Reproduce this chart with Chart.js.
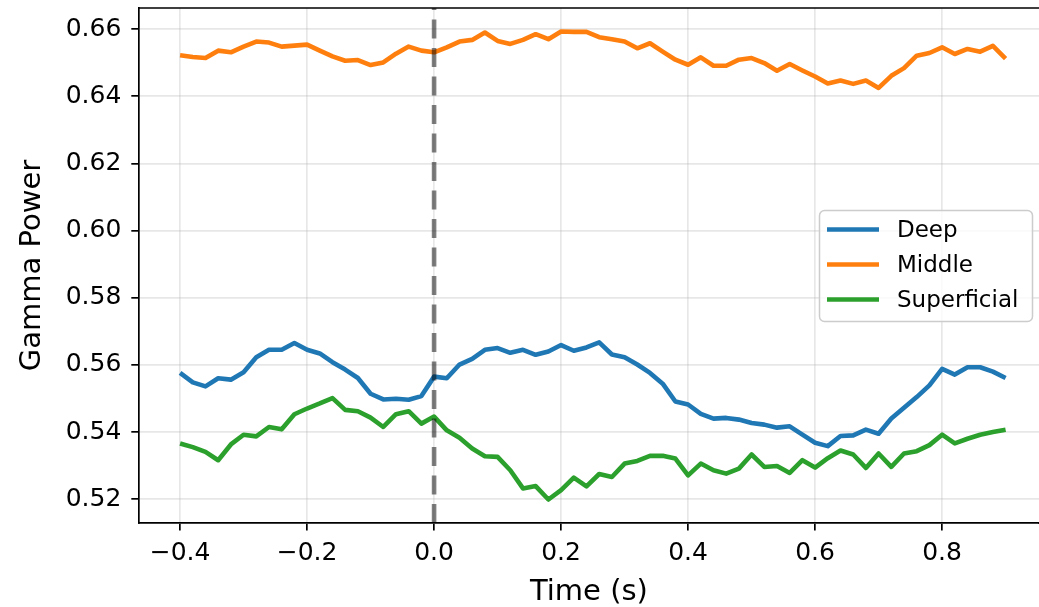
<!DOCTYPE html>
<html>
<head>
<meta charset="utf-8">
<script src="https://cdn.jsdelivr.net/npm/chart.js@4"></script>
<style>
  html, body { margin: 0; padding: 0; background: #fff; overflow: hidden; }
  #chart { display: block; }
</style>
</head>
<body>
<canvas id="chart" width="1039" height="607"></canvas>
<script>
const times = [
    -0.40, -0.38, -0.36, -0.34, -0.32, -0.30, -0.28, -0.26, -0.24, -0.22,
    -0.20, -0.18, -0.16, -0.14, -0.12, -0.10, -0.08, -0.06, -0.04, -0.02,
    0.00, 0.02, 0.04, 0.06, 0.08, 0.10, 0.12, 0.14, 0.16, 0.18,
    0.20, 0.22, 0.24, 0.26, 0.28, 0.30, 0.32, 0.34, 0.36, 0.38,
    0.40, 0.42, 0.44, 0.46, 0.48, 0.50, 0.52, 0.54, 0.56, 0.58,
    0.60, 0.62, 0.64, 0.66, 0.68, 0.70, 0.72, 0.74, 0.76, 0.78,
    0.80, 0.82, 0.84, 0.86, 0.88, 0.90
];

const deep = [
    0.5576, 0.5548, 0.5536, 0.5560, 0.5556, 0.5578, 0.5623, 0.5645, 0.5645, 0.5665,
    0.5645, 0.5634, 0.5608, 0.5586, 0.5561, 0.5514, 0.5497, 0.5499, 0.5496, 0.5507,
    0.5565, 0.5560, 0.5601, 0.5618, 0.5645, 0.5650, 0.5636, 0.5645, 0.5630, 0.5640,
    0.5659, 0.5642, 0.5652, 0.5667, 0.5631, 0.5623, 0.5601, 0.5576, 0.5544, 0.5491,
    0.5482, 0.5454, 0.5440, 0.5442, 0.5437, 0.5427, 0.5422, 0.5413, 0.5417, 0.5392,
    0.5368, 0.5358, 0.5388, 0.5390, 0.5407, 0.5395, 0.5440, 0.5472, 0.5504, 0.5539,
    0.5588, 0.5571, 0.5593, 0.5593, 0.5580, 0.5561
];

const middle = [
    0.6522, 0.6517, 0.6514, 0.6536, 0.6531, 0.6548, 0.6563, 0.6560, 0.6548, 0.6551,
    0.6554, 0.6536, 0.6519, 0.6506, 0.6508, 0.6493, 0.6501, 0.6527, 0.6548, 0.6536,
    0.6531, 0.6546, 0.6563, 0.6568, 0.6590, 0.6565, 0.6556, 0.6568, 0.6585, 0.6570,
    0.6593, 0.6592, 0.6592, 0.6576, 0.6570, 0.6563, 0.6543, 0.6558, 0.6533, 0.6509,
    0.6494, 0.6516, 0.6491, 0.6491, 0.6509, 0.6514, 0.6499, 0.6476, 0.6496, 0.6477,
    0.6459, 0.6438, 0.6447, 0.6437, 0.6447, 0.6425, 0.6461, 0.6484, 0.6521, 0.6529,
    0.6546, 0.6526, 0.6541, 0.6533, 0.6550, 0.6512
];

const superficial = [
    0.5366, 0.5355, 0.5341, 0.5316, 0.5363, 0.5392, 0.5387, 0.5415, 0.5408, 0.5453,
    0.5470, 0.5485, 0.5501, 0.5466, 0.5462, 0.5443, 0.5415, 0.5453, 0.5462, 0.5425,
    0.5446, 0.5405, 0.5383, 0.5351, 0.5328, 0.5326, 0.5286, 0.5232, 0.5239, 0.5199,
    0.5227, 0.5264, 0.5238, 0.5275, 0.5266, 0.5306, 0.5314, 0.5329, 0.5329, 0.5321,
    0.5271, 0.5306, 0.5286, 0.5276, 0.5291, 0.5333, 0.5296, 0.5299, 0.5278, 0.5316,
    0.5294, 0.5322, 0.5345, 0.5333, 0.5293, 0.5336, 0.5296, 0.5336, 0.5343, 0.5361,
    0.5392, 0.5366, 0.5380, 0.5392, 0.5400, 0.5407
];

const seriesNames = ['Deep', 'Middle', 'Superficial'];
const seriesColors = ['#1f77b4', '#ff7f0e', '#2ca02c'];

const xTicks = [-0.4, -0.2, 0.0, 0.2, 0.4, 0.6, 0.8];
const xTickLabels = ['\u22120.4', '\u22120.2', '0.0', '0.2', '0.4', '0.6', '0.8'];
const yTicks = [0.52, 0.54, 0.56, 0.58, 0.60, 0.62, 0.64, 0.66];
const yTickLabels = ['0.52', '0.54', '0.56', '0.58', '0.60', '0.62', '0.64', '0.66'];

// the original figure is cut off on the right, so the visible x range stops short of its spine
const xMin = -0.465, xMax = 0.9526;
const yMin = 0.5129, yMax = 0.6663;
const eventTime = 0.0;

const FONT = '"DejaVu Sans", sans-serif';
Chart.defaults.color = '#000';
Chart.defaults.font.family = FONT;

const toPoints = (ys) => times.map((t, i) => ({ x: t, y: ys[i] }));

// top spine (runs off the edge), bottom spine extension, legend box like matplotlib
const extras = {
    id: 'extras',
    afterDraw(chart) {
        const ctx = chart.ctx;
        const a = chart.chartArea;
        ctx.save();
        ctx.strokeStyle = '#000';
        ctx.lineWidth = 1.7;
        ctx.beginPath();
        ctx.moveTo(a.left - 0.8, a.top);
        ctx.lineTo(chart.width, a.top);
        ctx.moveTo(a.right - 1, a.bottom);
        ctx.lineTo(chart.width, a.bottom);
        ctx.stroke();

        // legend
        const bx = 819.5, by = 210.5, bw = 213, bh = 111;
        ctx.beginPath();
        ctx.roundRect(bx, by, bw, bh, 5);
        ctx.fillStyle = 'rgba(255,255,255,0.8)';
        ctx.fill();
        ctx.strokeStyle = '#cccccc';
        ctx.lineWidth = 1.5;
        ctx.stroke();

        ctx.font = '23px ' + FONT;
        ctx.textBaseline = 'middle';
        ctx.textAlign = 'left';
        seriesNames.forEach((name, i) => {
            const y = 229.5 + i * 35;
            ctx.strokeStyle = seriesColors[i];
            ctx.lineWidth = 4.6;
            ctx.beginPath();
            ctx.moveTo(827, y);
            ctx.lineTo(879, y);
            ctx.stroke();
            ctx.fillStyle = '#000';
            ctx.fillText(name, 897, y + 1.5);
        });
        ctx.restore();
    }
};

const gridColor = 'rgba(176,176,176,0.3)';

new Chart(document.getElementById('chart'), {
    type: 'line',
    data: {
        datasets: [
            { label: seriesNames[0], data: toPoints(deep), borderColor: seriesColors[0], order: 3 },
            { label: seriesNames[1], data: toPoints(middle), borderColor: seriesColors[1], order: 2 },
            { label: seriesNames[2], data: toPoints(superficial), borderColor: seriesColors[2], order: 1 },
            {
                label: 'event',
                data: [{ x: eventTime, y: yMin }, { x: eventTime, y: yMax }],
                borderColor: 'rgba(0,0,0,0.5)',
                borderWidth: 4.6,
                borderDash: [19, 9.5],
                borderCapStyle: 'butt',
                order: 0
            }
        ]
    },
    options: {
        responsive: false,
        animation: false,
        devicePixelRatio: 1,
        datasets: {
            line: {
                borderWidth: 4.6,
                pointRadius: 0,
                tension: 0,
                fill: false,
                borderJoinStyle: 'round'
            }
        },
        layout: { padding: { left: 0, top: 8, right: 0, bottom: 0 } },
        plugins: {
            legend: { display: false },
            tooltip: { enabled: false }
        },
        scales: {
            x: {
                type: 'linear',
                min: xMin,
                max: xMax,
                afterBuildTicks: (scale) => { scale.ticks = xTicks.map(v => ({ value: v })); },
                afterFit: (scale) => {
                    scale.height = 84;
                    scale.paddingLeft = 0;
                    scale.paddingRight = 0;
                },
                ticks: {
                    autoSkip: false,
                    maxRotation: 0,
                    padding: 8,
                    font: { size: 25 },
                    callback: (v, i) => xTickLabels[i]
                },
                grid: {
                    color: gridColor,
                    lineWidth: 1.7,
                    tickColor: '#000',
                    tickWidth: 1.7,
                    tickLength: 7.5
                },
                border: { display: true, color: '#000', width: 1.7 },
                title: {
                    display: true,
                    text: 'Time (s)',
                    font: { size: 29 },
                    padding: { top: 0, bottom: -3 }
                }
            },
            y: {
                type: 'linear',
                min: yMin,
                max: yMax,
                afterBuildTicks: (scale) => { scale.ticks = yTicks.map(v => ({ value: v })); },
                afterFit: (scale) => {
                    scale.width = 138.8;
                    scale.paddingTop = 0;
                    scale.paddingBottom = 0;
                },
                ticks: {
                    padding: 10,
                    font: { size: 25 },
                    callback: (v, i) => yTickLabels[i]
                },
                grid: {
                    color: gridColor,
                    lineWidth: 1.7,
                    tickColor: '#000',
                    tickWidth: 1.7,
                    tickLength: 7.5
                },
                border: { display: true, color: '#000', width: 1.7 },
                title: {
                    display: true,
                    text: 'Gamma Power',
                    font: { size: 29 },
                    padding: { top: 15, bottom: 0 }
                }
            }
        }
    },
    plugins: [extras]
});
</script>
</body>
</html>
